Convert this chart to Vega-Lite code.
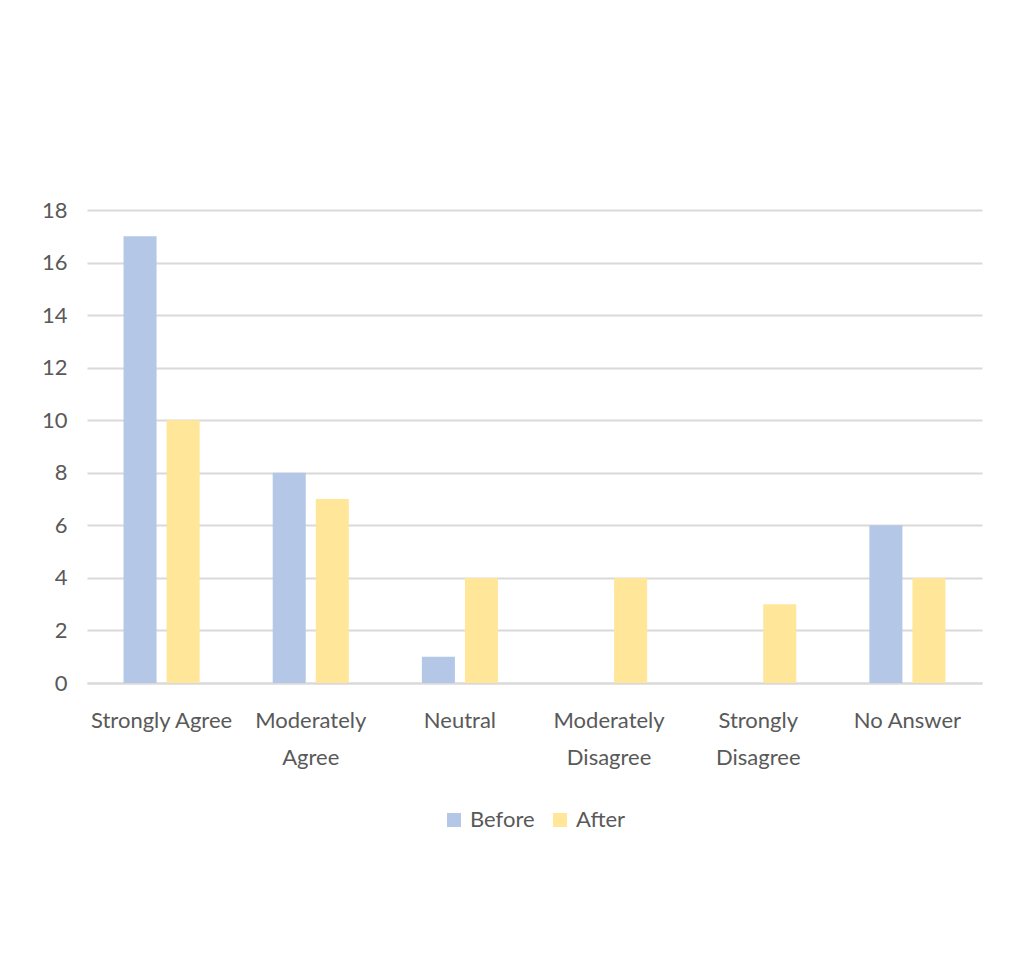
{
  "$schema": "https://vega.github.io/schema/vega-lite/v6.json",
  "width": 895,
  "height": 473,
  "padding": {"left": 41, "top": 199, "right": 34, "bottom": 10},
  "background": "white",
  "data": {
    "values": [
      {"response": "Strongly Agree", "period": "Before", "count": 17},
      {"response": "Strongly Agree", "period": "After", "count": 10},
      {"response": "Moderately Agree", "period": "Before", "count": 8},
      {"response": "Moderately Agree", "period": "After", "count": 7},
      {"response": "Neutral", "period": "Before", "count": 1},
      {"response": "Neutral", "period": "After", "count": 4},
      {"response": "Moderately Disagree", "period": "Before", "count": 0},
      {"response": "Moderately Disagree", "period": "After", "count": 4},
      {"response": "Strongly Disagree", "period": "Before", "count": 0},
      {"response": "Strongly Disagree", "period": "After", "count": 3},
      {"response": "No Answer", "period": "Before", "count": 6},
      {"response": "No Answer", "period": "After", "count": 4}
    ]
  },
  "mark": {"type": "bar"},
  "encoding": {
    "x": {
      "field": "response",
      "type": "nominal",
      "sort": null,
      "title": null,
      "scale": {"paddingInner": 0.49, "paddingOuter": 0.245},
      "axis": {
        "labelAngle": 0,
        "labelPadding": 27,
        "labelLineHeight": 37,
        "labelBaseline": "top",
        "domainColor": "#d9d9d9",
        "domainWidth": 2,
        "ticks": false,
        "labelExpr": "datum.value == 'Strongly Agree' || datum.value == 'Neutral' || datum.value == 'No Answer' ? datum.value : split(datum.value, ' ')"
      }
    },
    "xOffset": {
      "field": "period",
      "type": "nominal",
      "sort": ["Before", "After"],
      "scale": {"paddingInner": 0.233, "paddingOuter": 0}
    },
    "y": {
      "field": "count",
      "type": "quantitative",
      "title": null,
      "scale": {"domain": [0, 18]},
      "axis": {
        "values": [0, 2, 4, 6, 8, 10, 12, 14, 16, 18],
        "domain": false,
        "ticks": false,
        "labelPadding": 20,
        "gridColor": "#d9d9d9",
        "gridWidth": 2
      }
    },
    "color": {
      "field": "period",
      "type": "nominal",
      "sort": ["Before", "After"],
      "title": null,
      "scale": {"domain": ["Before", "After"], "range": ["#b4c7e7", "#ffe699"]},
      "legend": {
        "orient": "bottom",
        "direction": "horizontal",
        "symbolType": "square",
        "symbolSize": 196,
        "symbolStrokeWidth": 0,
        "labelOffset": 5,
        "columnPadding": 14,
        "offset": 41
      }
    }
  },
  "config": {
    "view": {"stroke": null},
    "font": "Lato",
    "axis": {
      "labelFont": "Lato",
      "labelFontSize": 22,
      "labelColor": "#595959"
    },
    "legend": {
      "labelFont": "Lato",
      "labelFontSize": 22,
      "labelColor": "#595959",
      "layout": {"bottom": {"anchor": "middle"}}
    }
  }
}
